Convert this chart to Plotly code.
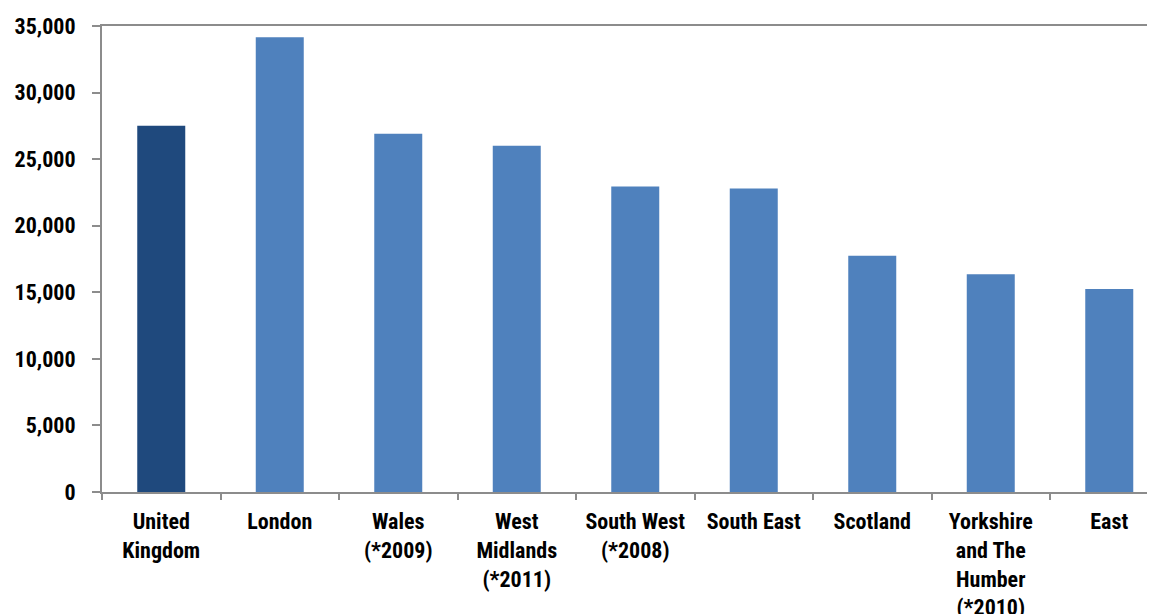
import plotly.graph_objects as go

categories = ["United<br>Kingdom", "London", "Wales<br>(*2009)", "West<br>Midlands<br>(*2011)",
              "South West<br>(*2008)", "South East", "Scotland",
              "Yorkshire<br>and The<br>Humber<br>(*2010)", "East"]
values = [27500, 34150, 26900, 26000, 22950, 22800, 17750, 16350, 15250]
colors = ["#1F497D"] + ["#4F81BD"] * 8

y_ticks = [0, 5000, 10000, 15000, 20000, 25000, 30000, 35000]
y_ticktext = ["0", "5,000", "10,000", "15,000", "20,000", "25,000", "30,000", "35,000"]

FONT = "Liberation Sans Narrow, Arial Narrow, Roboto Condensed, Roboto, sans-serif"
AX = "#8C8C8C"

fig = go.Figure(go.Bar(x=categories, y=values, marker=dict(color=colors, line=dict(width=0)),
                       width=0.405))

fig.update_layout(
    width=1147, height=606,
    margin=dict(l=94, r=0, t=18, b=122),
    paper_bgcolor="white", plot_bgcolor="white",
    font=dict(family=FONT, size=22, color="#000000", weight="bold"),
    showlegend=False,
)
fig.update_xaxes(
    range=[-0.5, 8.386], showline=True, linecolor=AX, linewidth=2, mirror=True,
    ticks="outside", tickson="boundaries", ticklen=6, tickcolor=AX, tickwidth=1.5,
    showgrid=False, tickangle=0, automargin=False, ticklabelstandoff=9,
    tickfont=dict(family=FONT, size=22, weight="bold"),
)
fig.update_yaxes(
    range=[0, 35000], tickvals=y_ticks, ticktext=y_ticktext,
    showline=True, linecolor=AX, linewidth=2, ticks="outside", ticklen=8,
    tickcolor=AX, tickwidth=1.5, showgrid=False, zeroline=False, automargin=False,
    tickfont=dict(family=FONT, size=22, weight="bold"), ticklabelstandoff=12,
)

fig.write_html("out.html")
